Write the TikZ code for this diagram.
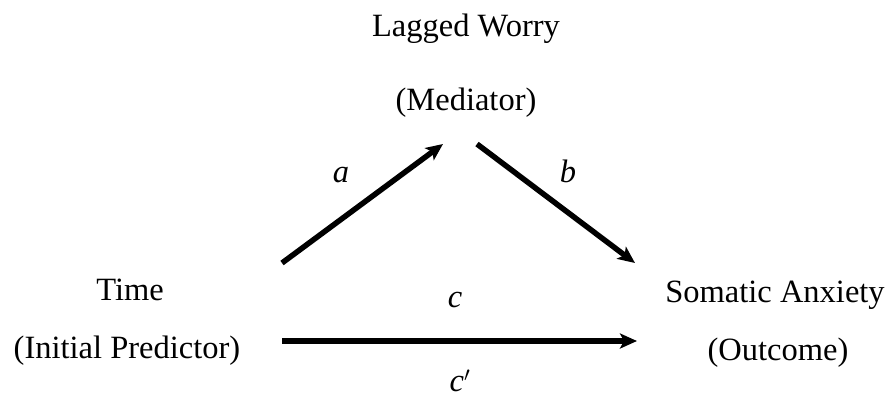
\documentclass[tikz,border=0pt]{standalone}
\usepackage{fontspec}
\setmainfont{Liberation Serif}
\usetikzlibrary{arrows.meta}

\begin{document}
\begin{tikzpicture}[x=1pt, y=-1pt,
      lbl/.style={anchor=base, inner sep=0pt, font=\fontsize{32.5}{38}\selectfont},
      coef/.style={anchor=base, inner sep=0pt, font=\fontsize{32.5}{38}\selectfont\itshape},
      effect/.style={line width=5.5pt, -{Stealth[length=17pt, width=15pt, inset=4pt]}}]
      \useasboundingbox (0,0) rectangle (893,400);
      \node (worry) [lbl] at (466,36) {Lagged Worry};
      \node (mediator) [lbl] at (466,110) {(Mediator)};
      \node (time) [lbl] at (130,300) {Time};
      \node (predictor) [lbl] at (127,358) {(Initial Predictor)};
      \node (somatic) [lbl] at (775,302) {Somatic Anxiety};
      \node (outcome) [lbl] at (778,360) {(Outcome)};
      
      \coordinate (astart) at (282,263);
      \coordinate (aend) at (443,144);
      \coordinate (bstart) at (477,144);
      \coordinate (bend) at (635,263);
      \coordinate (cstart) at (282,341);
      \coordinate (cend) at (637,341);
      
      \draw[effect] (astart) -- (aend);
      \draw[effect] (bstart) -- (bend);
      \draw[effect] (cstart) -- (cend);
      
      \node (alabel) [coef] at (341,182) {a};
      \node (blabel) [coef] at (568,182) {b};
      \node (clabel) [coef] at (455,307) {c};
      \node (cplabel) [coef] at (460,391) {c$'$};
    \end{tikzpicture}
\end{document}
